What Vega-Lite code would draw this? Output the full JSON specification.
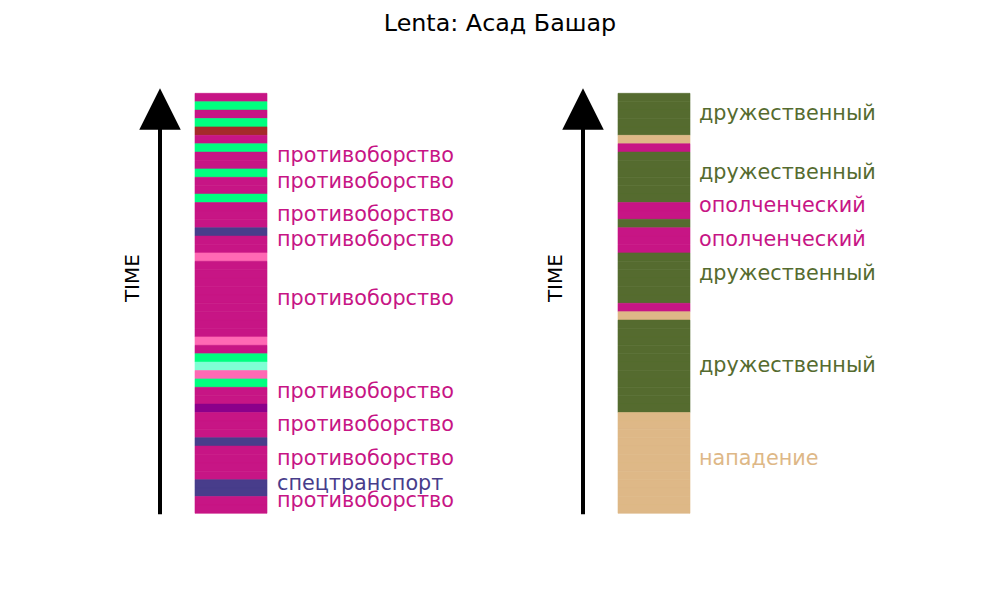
{
  "$schema": "https://vega.github.io/schema/vega-lite/v6.json",
  "width": 1000,
  "height": 600,
  "autosize": {"type": "fit", "contains": "padding"},
  "padding": 0,
  "background": "white",
  "config": {"view": {"stroke": null}, "font": "DejaVu Sans"},
  "datasets": {
    "stripes": [
      {"side": "L", "t": 49, "t2": 50, "cat": "противоборство"},
      {"side": "L", "t": 48, "t2": 49, "cat": "прочее 1"},
      {"side": "L", "t": 47, "t2": 48, "cat": "противоборство"},
      {"side": "L", "t": 46, "t2": 47, "cat": "прочее 1"},
      {"side": "L", "t": 45, "t2": 46, "cat": "прочее 2"},
      {"side": "L", "t": 44, "t2": 45, "cat": "противоборство"},
      {"side": "L", "t": 43, "t2": 44, "cat": "прочее 1"},
      {"side": "L", "t": 42, "t2": 43, "cat": "противоборство"},
      {"side": "L", "t": 41, "t2": 42, "cat": "противоборство"},
      {"side": "L", "t": 40, "t2": 41, "cat": "прочее 1"},
      {"side": "L", "t": 39, "t2": 40, "cat": "противоборство"},
      {"side": "L", "t": 38, "t2": 39, "cat": "противоборство"},
      {"side": "L", "t": 37, "t2": 38, "cat": "прочее 1"},
      {"side": "L", "t": 36, "t2": 37, "cat": "противоборство"},
      {"side": "L", "t": 35, "t2": 36, "cat": "противоборство"},
      {"side": "L", "t": 34, "t2": 35, "cat": "противоборство"},
      {"side": "L", "t": 33, "t2": 34, "cat": "спецтранспорт"},
      {"side": "L", "t": 32, "t2": 33, "cat": "противоборство"},
      {"side": "L", "t": 31, "t2": 32, "cat": "противоборство"},
      {"side": "L", "t": 30, "t2": 31, "cat": "прочее 3"},
      {"side": "L", "t": 29, "t2": 30, "cat": "противоборство"},
      {"side": "L", "t": 28, "t2": 29, "cat": "противоборство"},
      {"side": "L", "t": 27, "t2": 28, "cat": "противоборство"},
      {"side": "L", "t": 26, "t2": 27, "cat": "противоборство"},
      {"side": "L", "t": 25, "t2": 26, "cat": "противоборство"},
      {"side": "L", "t": 24, "t2": 25, "cat": "противоборство"},
      {"side": "L", "t": 23, "t2": 24, "cat": "противоборство"},
      {"side": "L", "t": 22, "t2": 23, "cat": "противоборство"},
      {"side": "L", "t": 21, "t2": 22, "cat": "противоборство"},
      {"side": "L", "t": 20, "t2": 21, "cat": "прочее 3"},
      {"side": "L", "t": 19, "t2": 20, "cat": "противоборство"},
      {"side": "L", "t": 18, "t2": 19, "cat": "прочее 1"},
      {"side": "L", "t": 17, "t2": 18, "cat": "прочее 4"},
      {"side": "L", "t": 16, "t2": 17, "cat": "прочее 3"},
      {"side": "L", "t": 15, "t2": 16, "cat": "прочее 1"},
      {"side": "L", "t": 14, "t2": 15, "cat": "противоборство"},
      {"side": "L", "t": 13, "t2": 14, "cat": "противоборство"},
      {"side": "L", "t": 12, "t2": 13, "cat": "прочее 5"},
      {"side": "L", "t": 11, "t2": 12, "cat": "противоборство"},
      {"side": "L", "t": 10, "t2": 11, "cat": "противоборство"},
      {"side": "L", "t": 9, "t2": 10, "cat": "противоборство"},
      {"side": "L", "t": 8, "t2": 9, "cat": "спецтранспорт"},
      {"side": "L", "t": 7, "t2": 8, "cat": "противоборство"},
      {"side": "L", "t": 6, "t2": 7, "cat": "противоборство"},
      {"side": "L", "t": 5, "t2": 6, "cat": "противоборство"},
      {"side": "L", "t": 4, "t2": 5, "cat": "противоборство"},
      {"side": "L", "t": 3, "t2": 4, "cat": "спецтранспорт"},
      {"side": "L", "t": 2, "t2": 3, "cat": "спецтранспорт"},
      {"side": "L", "t": 1, "t2": 2, "cat": "противоборство"},
      {"side": "L", "t": 0, "t2": 1, "cat": "противоборство"},
      {"side": "R", "t": 49, "t2": 50, "cat": "дружественный"},
      {"side": "R", "t": 48, "t2": 49, "cat": "дружественный"},
      {"side": "R", "t": 47, "t2": 48, "cat": "дружественный"},
      {"side": "R", "t": 46, "t2": 47, "cat": "дружественный"},
      {"side": "R", "t": 45, "t2": 46, "cat": "дружественный"},
      {"side": "R", "t": 44, "t2": 45, "cat": "нападение"},
      {"side": "R", "t": 43, "t2": 44, "cat": "ополченческий"},
      {"side": "R", "t": 42, "t2": 43, "cat": "дружественный"},
      {"side": "R", "t": 41, "t2": 42, "cat": "дружественный"},
      {"side": "R", "t": 40, "t2": 41, "cat": "дружественный"},
      {"side": "R", "t": 39, "t2": 40, "cat": "дружественный"},
      {"side": "R", "t": 38, "t2": 39, "cat": "дружественный"},
      {"side": "R", "t": 37, "t2": 38, "cat": "дружественный"},
      {"side": "R", "t": 36, "t2": 37, "cat": "ополченческий"},
      {"side": "R", "t": 35, "t2": 36, "cat": "ополченческий"},
      {"side": "R", "t": 34, "t2": 35, "cat": "дружественный"},
      {"side": "R", "t": 33, "t2": 34, "cat": "ополченческий"},
      {"side": "R", "t": 32, "t2": 33, "cat": "ополченческий"},
      {"side": "R", "t": 31, "t2": 32, "cat": "ополченческий"},
      {"side": "R", "t": 30, "t2": 31, "cat": "дружественный"},
      {"side": "R", "t": 29, "t2": 30, "cat": "дружественный"},
      {"side": "R", "t": 28, "t2": 29, "cat": "дружественный"},
      {"side": "R", "t": 27, "t2": 28, "cat": "дружественный"},
      {"side": "R", "t": 26, "t2": 27, "cat": "дружественный"},
      {"side": "R", "t": 25, "t2": 26, "cat": "дружественный"},
      {"side": "R", "t": 24, "t2": 25, "cat": "ополченческий"},
      {"side": "R", "t": 23, "t2": 24, "cat": "нападение"},
      {"side": "R", "t": 22, "t2": 23, "cat": "дружественный"},
      {"side": "R", "t": 21, "t2": 22, "cat": "дружественный"},
      {"side": "R", "t": 20, "t2": 21, "cat": "дружественный"},
      {"side": "R", "t": 19, "t2": 20, "cat": "дружественный"},
      {"side": "R", "t": 18, "t2": 19, "cat": "дружественный"},
      {"side": "R", "t": 17, "t2": 18, "cat": "дружественный"},
      {"side": "R", "t": 16, "t2": 17, "cat": "дружественный"},
      {"side": "R", "t": 15, "t2": 16, "cat": "дружественный"},
      {"side": "R", "t": 14, "t2": 15, "cat": "дружественный"},
      {"side": "R", "t": 13, "t2": 14, "cat": "дружественный"},
      {"side": "R", "t": 12, "t2": 13, "cat": "дружественный"},
      {"side": "R", "t": 11, "t2": 12, "cat": "нападение"},
      {"side": "R", "t": 10, "t2": 11, "cat": "нападение"},
      {"side": "R", "t": 9, "t2": 10, "cat": "нападение"},
      {"side": "R", "t": 8, "t2": 9, "cat": "нападение"},
      {"side": "R", "t": 7, "t2": 8, "cat": "нападение"},
      {"side": "R", "t": 6, "t2": 7, "cat": "нападение"},
      {"side": "R", "t": 5, "t2": 6, "cat": "нападение"},
      {"side": "R", "t": 4, "t2": 5, "cat": "нападение"},
      {"side": "R", "t": 3, "t2": 4, "cat": "нападение"},
      {"side": "R", "t": 2, "t2": 3, "cat": "нападение"},
      {"side": "R", "t": 1, "t2": 2, "cat": "нападение"},
      {"side": "R", "t": 0, "t2": 1, "cat": "нападение"}
    ],
    "labels": [
      {"side": "L", "t": 42.53, "cat": "противоборство"},
      {"side": "L", "t": 39.44, "cat": "противоборство"},
      {"side": "L", "t": 35.51, "cat": "противоборство"},
      {"side": "L", "t": 32.53, "cat": "противоборство"},
      {"side": "L", "t": 25.51, "cat": "противоборство"},
      {"side": "L", "t": 14.46, "cat": "противоборство"},
      {"side": "L", "t": 10.51, "cat": "противоборство"},
      {"side": "L", "t": 6.46, "cat": "противоборство"},
      {"side": "L", "t": 3.49, "cat": "спецтранспорт"},
      {"side": "L", "t": 1.46, "cat": "противоборство"},
      {"side": "R", "t": 47.53, "cat": "дружественный"},
      {"side": "R", "t": 40.51, "cat": "дружественный"},
      {"side": "R", "t": 36.58, "cat": "ополченческий"},
      {"side": "R", "t": 32.53, "cat": "ополченческий"},
      {"side": "R", "t": 28.48, "cat": "дружественный"},
      {"side": "R", "t": 17.53, "cat": "дружественный"},
      {"side": "R", "t": 6.46, "cat": "нападение"}
    ],
    "one": [{"name": "TIME"}]
  },
  "layer": [
    {
      "data": {"name": "stripes"},
      "transform": [{"filter": "datum.side === 'L'"}],
      "mark": {"type": "rect", "strokeWidth": 0.6},
      "encoding": {
        "x": {"datum": 19.5, "type": "quantitative", "scale": {"domain": [0, 100], "nice": false, "zero": false}, "axis": null},
        "x2": {"datum": 26.7},
        "y": {"field": "t", "type": "quantitative", "scale": {"domain": [-10.32, 61.11], "nice": false, "zero": false}, "axis": null},
        "y2": {"field": "t2"},
        "color": {"field": "cat", "type": "nominal", "legend": null,
          "scale": {"domain": ["противоборство", "ополченческий", "спецтранспорт", "дружественный", "нападение", "прочее 1", "прочее 2", "прочее 3", "прочее 4", "прочее 5"],
                    "range": ["#C71585", "#C71585", "#483D8B", "#556B2F", "#DEB887", "#00FF7F", "#A52A2A", "#FF69B4", "#7FFFD4", "#8B008B"]}},
        "stroke": {"field": "cat", "type": "nominal", "legend": null,
          "scale": {"domain": ["противоборство", "ополченческий", "спецтранспорт", "дружественный", "нападение", "прочее 1", "прочее 2", "прочее 3", "прочее 4", "прочее 5"],
                    "range": ["#C71585", "#C71585", "#483D8B", "#556B2F", "#DEB887", "#00FF7F", "#A52A2A", "#FF69B4", "#7FFFD4", "#8B008B"]}}
      }
    },
    {
      "data": {"name": "stripes"},
      "transform": [{"filter": "datum.side === 'R'"}],
      "mark": {"type": "rect", "strokeWidth": 0.6},
      "encoding": {
        "x": {"datum": 61.8, "type": "quantitative", "scale": {"domain": [0, 100], "nice": false, "zero": false}, "axis": null},
        "x2": {"datum": 69.0},
        "y": {"field": "t", "type": "quantitative", "scale": {"domain": [-10.32, 61.11], "nice": false, "zero": false}, "axis": null},
        "y2": {"field": "t2"},
        "color": {"field": "cat", "type": "nominal", "legend": null},
        "stroke": {"field": "cat", "type": "nominal", "legend": null}
      }
    },
    {
      "data": {"name": "labels"},
      "transform": [{"filter": "datum.side === 'L'"}],
      "mark": {"type": "text", "align": "left", "baseline": "middle", "fontSize": 20.75},
      "encoding": {
        "x": {"datum": 27.7, "type": "quantitative", "scale": {"domain": [0, 100], "nice": false, "zero": false}, "axis": null},
        "y": {"field": "t", "type": "quantitative", "scale": {"domain": [-10.32, 61.11], "nice": false, "zero": false}, "axis": null},
        "text": {"field": "cat"},
        "color": {"field": "cat", "type": "nominal", "legend": null}
      }
    },
    {
      "data": {"name": "labels"},
      "transform": [{"filter": "datum.side === 'R'"}],
      "mark": {"type": "text", "align": "left", "baseline": "middle", "fontSize": 20.75},
      "encoding": {
        "x": {"datum": 69.9, "type": "quantitative", "scale": {"domain": [0, 100], "nice": false, "zero": false}, "axis": null},
        "y": {"field": "t", "type": "quantitative", "scale": {"domain": [-10.32, 61.11], "nice": false, "zero": false}, "axis": null},
        "text": {"field": "cat"},
        "color": {"field": "cat", "type": "nominal", "legend": null}
      }
    },
    {
      "data": {"name": "one"},
      "mark": {"type": "rule", "color": "black", "strokeWidth": 4},
      "encoding": {
        "x": {"datum": 16.0, "type": "quantitative", "scale": {"domain": [0, 100], "nice": false, "zero": false}, "axis": null},
        "y": {"datum": -0.1, "type": "quantitative", "scale": {"domain": [-10.32, 61.11], "nice": false, "zero": false}, "axis": null},
        "y2": {"datum": 47.8}
      }
    },
    {
      "data": {"name": "one"},
      "mark": {"type": "rule", "color": "black", "strokeWidth": 4},
      "encoding": {
        "x": {"datum": 58.3, "type": "quantitative", "scale": {"domain": [0, 100], "nice": false, "zero": false}, "axis": null},
        "y": {"datum": -0.1, "type": "quantitative", "scale": {"domain": [-10.32, 61.11], "nice": false, "zero": false}, "axis": null},
        "y2": {"datum": 47.8}
      }
    },
    {
      "data": {"name": "one"},
      "mark": {"type": "point", "shape": "M0,-1L1,1L-1,1Z", "size": 1722, "filled": true, "color": "black", "opacity": 1, "strokeWidth": 0},
      "encoding": {
        "x": {"datum": 16.0, "type": "quantitative", "scale": {"domain": [0, 100], "nice": false, "zero": false}, "axis": null},
        "y": {"datum": 48.13, "type": "quantitative", "scale": {"domain": [-10.32, 61.11], "nice": false, "zero": false}, "axis": null}
      }
    },
    {
      "data": {"name": "one"},
      "mark": {"type": "point", "shape": "M0,-1L1,1L-1,1Z", "size": 1722, "filled": true, "color": "black", "opacity": 1, "strokeWidth": 0},
      "encoding": {
        "x": {"datum": 58.3, "type": "quantitative", "scale": {"domain": [0, 100], "nice": false, "zero": false}, "axis": null},
        "y": {"datum": 48.13, "type": "quantitative", "scale": {"domain": [-10.32, 61.11], "nice": false, "zero": false}, "axis": null}
      }
    },
    {
      "data": {"name": "one"},
      "mark": {"type": "text", "angle": 270, "align": "center", "baseline": "middle", "fontSize": 20, "color": "black"},
      "encoding": {
        "x": {"datum": 13.3, "type": "quantitative", "scale": {"domain": [0, 100], "nice": false, "zero": false}, "axis": null},
        "y": {"datum": 28.0, "type": "quantitative", "scale": {"domain": [-10.32, 61.11], "nice": false, "zero": false}, "axis": null},
        "text": {"field": "name"}
      }
    },
    {
      "data": {"name": "one"},
      "mark": {"type": "text", "angle": 270, "align": "center", "baseline": "middle", "fontSize": 20, "color": "black"},
      "encoding": {
        "x": {"datum": 55.6, "type": "quantitative", "scale": {"domain": [0, 100], "nice": false, "zero": false}, "axis": null},
        "y": {"datum": 28.0, "type": "quantitative", "scale": {"domain": [-10.32, 61.11], "nice": false, "zero": false}, "axis": null},
        "text": {"field": "name"}
      }
    },
    {
      "data": {"values": [{"title": "Lenta: Асад Башар"}]},
      "mark": {"type": "text", "align": "center", "baseline": "middle", "fontSize": 23.8, "color": "black"},
      "encoding": {
        "x": {"datum": 50.0, "type": "quantitative", "scale": {"domain": [0, 100], "nice": false, "zero": false}, "axis": null},
        "y": {"datum": 58.25, "type": "quantitative", "scale": {"domain": [-10.32, 61.11], "nice": false, "zero": false}, "axis": null},
        "text": {"field": "title"}
      }
    }
  ]
}
